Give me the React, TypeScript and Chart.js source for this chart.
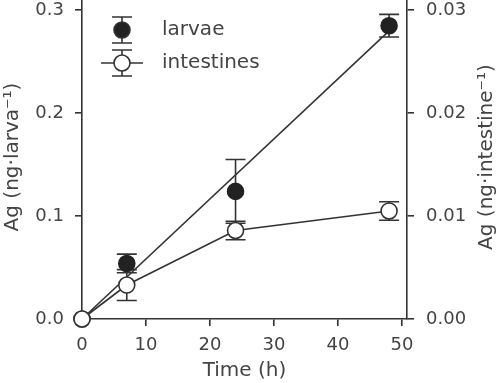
import React, { useEffect, useRef } from "react";
import { Chart, registerables } from "chart.js";

Chart.register(...registerables);

const hours = [0, 7, 24, 48];
const larvae = [0, 0.054, 0.124, 0.285];
const larvaeErr = [0, 0.009, 0.031, 0.011];
const intestines = [0, 0.0033, 0.0086, 0.0105];
const intestinesErr = [0, 0.0015, 0.0009, 0.0009];
const fitHours = [0, 48];
const fitLarvae = [0, 0.28];
const xTicks = [0, 10, 20, 30, 40, 50];
const yTicks = [0, 0.1, 0.2, 0.3];
const y2Ticks = [0, 0.01, 0.02, 0.03];
const legendLabels = ["larvae", "intestines"];
const axisTitles = { x: "Time (h)", y: "Ag (ng·larva⁻¹)", y2: "Ag (ng·intestine⁻¹)" };

const FONT = "'DejaVu Sans', sans-serif";
const TEXT = "#444";
const LINE = "#333";
const MARK = "#222";
const CAP = 10;
const R = 8;
const LW = 1.6;

function drawErrBar(ctx: CanvasRenderingContext2D, x: number, y1: number, y2: number) {
  ctx.beginPath();
  ctx.moveTo(x, y1);
  ctx.lineTo(x, y2);
  ctx.moveTo(x - CAP, y1);
  ctx.lineTo(x + CAP, y1);
  ctx.moveTo(x - CAP, y2);
  ctx.lineTo(x + CAP, y2);
  ctx.stroke();
}

const zeroPad = (s: any) => {
  s.paddingTop = 0;
  s.paddingBottom = 0;
  s.paddingLeft = 0;
  s.paddingRight = 0;
};

const extrasPlugin = {
  id: "extras",
  afterLayout(chart: any) {
    const ca = chart.chartArea;
    const d = ca.top;
    if (d !== 0) {
      ca.top = 0;
      ca.height = ca.bottom - ca.top;
      ["y", "y2"].forEach((id) => {
        const s = chart.scales[id];
        s.top = 0;
        s.height = s.bottom - s.top;
        s.configure();
      });
    }
  },
  beforeDatasetsDraw(chart: any) {
    const ctx = chart.ctx as CanvasRenderingContext2D;
    const sx = chart.scales.x;
    const sy = chart.scales.y;
    const sy2 = chart.scales.y2;
    ctx.save();
    ctx.strokeStyle = LINE;
    ctx.lineWidth = LW;
    hours.forEach((h, i) => {
      if (larvaeErr[i] > 0) {
        drawErrBar(ctx, sx.getPixelForValue(h), sy.getPixelForValue(larvae[i] + larvaeErr[i]), sy.getPixelForValue(larvae[i] - larvaeErr[i]));
      }
      if (intestinesErr[i] > 0) {
        drawErrBar(ctx, sx.getPixelForValue(h), sy2.getPixelForValue(intestines[i] + intestinesErr[i]), sy2.getPixelForValue(intestines[i] - intestinesErr[i]));
      }
    });
    ctx.restore();
  },
  afterDraw(chart: any) {
    const ctx = chart.ctx as CanvasRenderingContext2D;
    const ca = chart.chartArea;
    ctx.save();
    ctx.fillStyle = TEXT;
    ctx.font = `20px ${FONT}`;
    ctx.textAlign = "center";
    ctx.textBaseline = "middle";
    ctx.fillText(axisTitles.x, (ca.left + ca.right) / 2, 371);
    const cy = 157;
    ctx.save();
    ctx.translate(13, cy);
    ctx.rotate(-Math.PI / 2);
    ctx.fillText(axisTitles.y, 0, 0);
    ctx.restore();
    ctx.save();
    ctx.translate(487, cy);
    ctx.rotate(-Math.PI / 2);
    ctx.fillText(axisTitles.y2, 0, 0);
    ctx.restore();

    // legend
    const lx = 122;
    const ly1 = 30;
    const ly2 = 63;
    ctx.strokeStyle = LINE;
    ctx.lineWidth = LW;
    drawErrBar(ctx, lx, ly1 - 13, ly1 + 13);
    ctx.beginPath();
    ctx.arc(lx, ly1, R, 0, Math.PI * 2);
    ctx.fillStyle = MARK;
    ctx.fill();
    ctx.stroke();
    ctx.beginPath();
    ctx.moveTo(101, ly2);
    ctx.lineTo(143, ly2);
    ctx.stroke();
    drawErrBar(ctx, lx, ly2 - 13, ly2 + 13);
    ctx.beginPath();
    ctx.arc(lx, ly2, R, 0, Math.PI * 2);
    ctx.fillStyle = "#fff";
    ctx.fill();
    ctx.stroke();
    ctx.fillStyle = TEXT;
    ctx.font = `20px ${FONT}`;
    ctx.textAlign = "left";
    ctx.textBaseline = "middle";
    ctx.fillText(legendLabels[0], 162, ly1);
    ctx.fillText(legendLabels[1], 162, ly2);
    ctx.restore();
  },
};

const tickFont = { family: FONT, size: 18 };

export default function App() {
  const ref = useRef<HTMLCanvasElement>(null);
  useEffect(() => {
    if (!ref.current) return;
    const chart = new Chart(ref.current, {
      type: "scatter",
      data: {
        datasets: [
          {
            label: legendLabels[1],
            data: hours.map((h, i) => ({ x: h, y: intestines[i] })),
            yAxisID: "y2",
            showLine: true,
            borderColor: LINE,
            borderWidth: LW,
            pointRadius: R,
            pointBorderWidth: LW,
            pointBackgroundColor: "#fff",
            pointBorderColor: LINE,
            clip: false,
            order: 0,
          },
          {
            label: legendLabels[0],
            data: hours.map((h, i) => ({ x: h, y: larvae[i] })),
            yAxisID: "y",
            showLine: false,
            pointRadius: R,
            pointBorderWidth: LW,
            pointBackgroundColor: MARK,
            pointBorderColor: MARK,
            clip: false,
            order: 1,
          },
          {
            label: "fit",
            data: fitHours.map((h, i) => ({ x: h, y: fitLarvae[i] })),
            yAxisID: "y",
            showLine: true,
            borderColor: LINE,
            borderWidth: LW,
            pointRadius: 0,
            clip: false,
            order: 2,
          },
        ],
      },
      options: {
        responsive: false,
        animation: false,
        events: [],
        layout: { padding: 0 },
        plugins: { legend: { display: false }, tooltip: { enabled: false } },
        scales: {
          x: {
            type: "linear",
            min: 0,
            max: 50.8,
            afterBuildTicks: (s: any) => { s.ticks = xTicks.map((v) => ({ value: v })); },
            afterFit: (s: any) => { s.height = 64; zeroPad(s); },
            grid: { display: true, drawOnChartArea: false, drawTicks: true, tickLength: 7, color: LINE, lineWidth: LW },
            border: { display: true, color: LINE, width: LW },
            ticks: { font: tickFont, color: TEXT, padding: 9, maxRotation: 0, callback: (v: any) => String(v) },
          },
          y: {
            type: "linear",
            position: "left",
            min: 0,
            max: 0.31,
            afterBuildTicks: (s: any) => { s.ticks = yTicks.map((v) => ({ value: v })); },
            afterFit: (s: any) => { s.width = 82; zeroPad(s); },
            grid: { display: true, drawOnChartArea: false, drawTicks: true, tickLength: 7, color: LINE, lineWidth: LW },
            border: { display: true, color: LINE, width: LW },
            ticks: { font: tickFont, color: TEXT, padding: 11, callback: (v: any) => Number(v).toFixed(1) },
          },
          y2: {
            type: "linear",
            position: "right",
            min: 0,
            max: 0.031,
            afterBuildTicks: (s: any) => { s.ticks = y2Ticks.map((v) => ({ value: v })); },
            afterFit: (s: any) => { s.width = 93; zeroPad(s); },
            grid: { display: true, drawOnChartArea: false, drawTicks: true, tickLength: 7, color: LINE, lineWidth: LW },
            border: { display: true, color: LINE, width: LW },
            ticks: { font: tickFont, color: TEXT, padding: 12, callback: (v: any) => Number(v).toFixed(2) },
          },
        },
      },
      plugins: [extrasPlugin],
    } as any);
    return () => chart.destroy();
  }, []);
  return (
    <div style={{ position: "fixed", left: 0, top: 0, width: 500, height: 383, background: "#fff" }}>
      <canvas ref={ref} width={500} height={383} style={{ display: "block", width: 500, height: 383 }} />
    </div>
  );
}
